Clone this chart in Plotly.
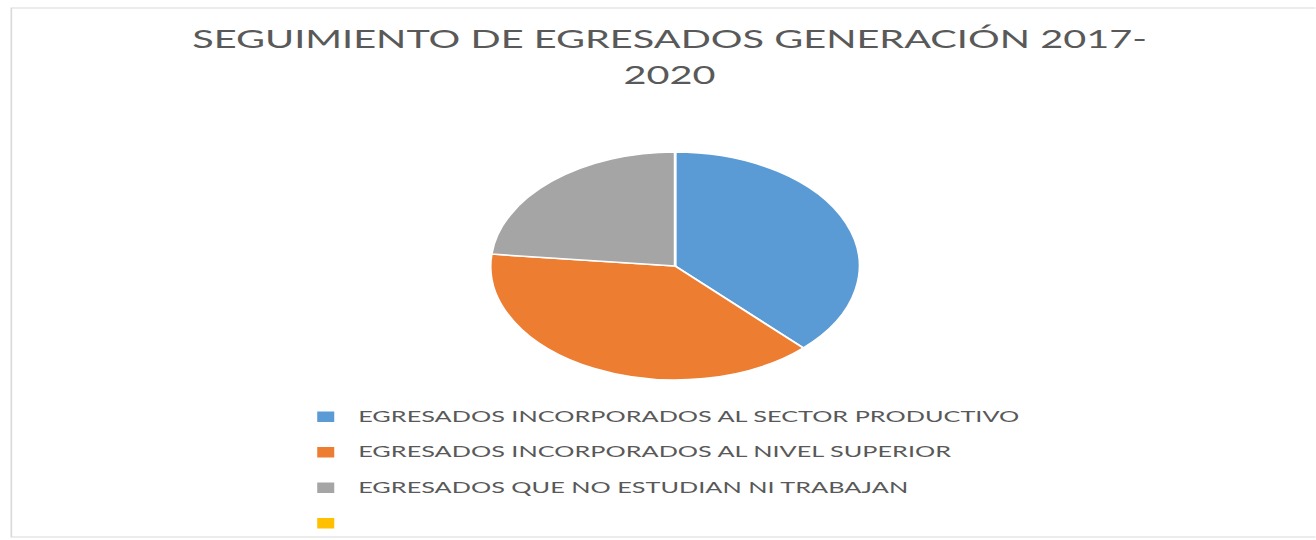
import plotly.graph_objects as go

# Data
categories = [
    "EGRESADOS INCORPORADOS AL SECTOR PRODUCTIVO",
    "EGRESADOS INCORPORADOS AL NIVEL SUPERIOR",
    "EGRESADOS QUE NO ESTUDIAN NI TRABAJAN",
    "\u00a0",
]
values = [34, 35, 21, 0]
colors = ["#5B9BD5", "#ED7D31", "#A5A5A5", "#FFC000"]
title_lines = ["SEGUIMIENTO DE EGRESADOS GENERACIÓN 2017-", "2020"]

SX = 1.62                    # horizontal stretch of the reference picture
BASE_W = round(1316 / SX)    # unstretched width
H = 540

TITLE_TEXT = 24.5  # title glyph size
TITLE_BASE = 27.7  # title base size (sets line spacing)
LEG_TEXT = 15.6    # legend text size
LEG_BASE = 12.5    # legend base size (sets row spacing)

title_text = "<br>".join(
    '<span style="font-size:%spx">%s</span>' % (TITLE_TEXT, t) for t in title_lines
)

# legend labels: text on first line, blank second line to widen the row gap
# (the last entry needs no extra gap below it)
legend_labels = []
for i, c in enumerate(categories):
    lab = '<span style="font-size:%spx">%s</span>' % (LEG_TEXT, c)
    if i < len(categories) - 1:
        lab += "<br>\u00a0"
    legend_labels.append(lab)

fig = go.Figure(
    go.Pie(
        labels=legend_labels,
        values=values,
        marker=dict(colors=colors, line=dict(color="white", width=1.5)),
        sort=False,
        direction="clockwise",
        rotation=0,
        textinfo="none",
        hovertext=categories,
        hoverinfo="text+value+percent",
        domain=dict(x=[0.3728, 0.6536], y=[0.2963, 0.7185]),
    )
)

fig.update_layout(
    width=BASE_W,
    height=H,
    margin=dict(l=0, r=0, t=0, b=0),
    paper_bgcolor="white",
    plot_bgcolor="white",
    font=dict(family="Lato, 'Open Sans', sans-serif", color="#595959"),
    title=dict(
        text=title_text,
        x=0.509,
        xanchor="center",
        y=1 - 48 / H,
        yanchor="top",
        font=dict(size=TITLE_BASE, color="#595959"),
    ),
    showlegend=True,
    legend=dict(
        x=0.223,
        xanchor="left",
        y=1 - 402 / H,
        yanchor="top",
        valign="top",
        font=dict(size=LEG_BASE, color="#595959"),
        bgcolor="rgba(0,0,0,0)",
    ),
    shapes=[
        dict(
            type="rect", xref="paper", yref="paper",
            x0=7 / BASE_W, x1=1.5, y0=1 - 537 / H, y1=1 - 8 / H,
            line=dict(color="#D9D9D9", width=1),
            fillcolor="rgba(0,0,0,0)",
            layer="below",
        )
    ],
)

post_js = """
document.body.style.margin = '0';
document.body.style.overflow = 'hidden';
var gd = document.getElementById('{plot_id}');
gd.style.transformOrigin = '0 0';
gd.style.transform = 'scaleX(%s)';
""" % SX

fig.write_html("out.html", post_script=post_js, config={"displayModeBar": False})
